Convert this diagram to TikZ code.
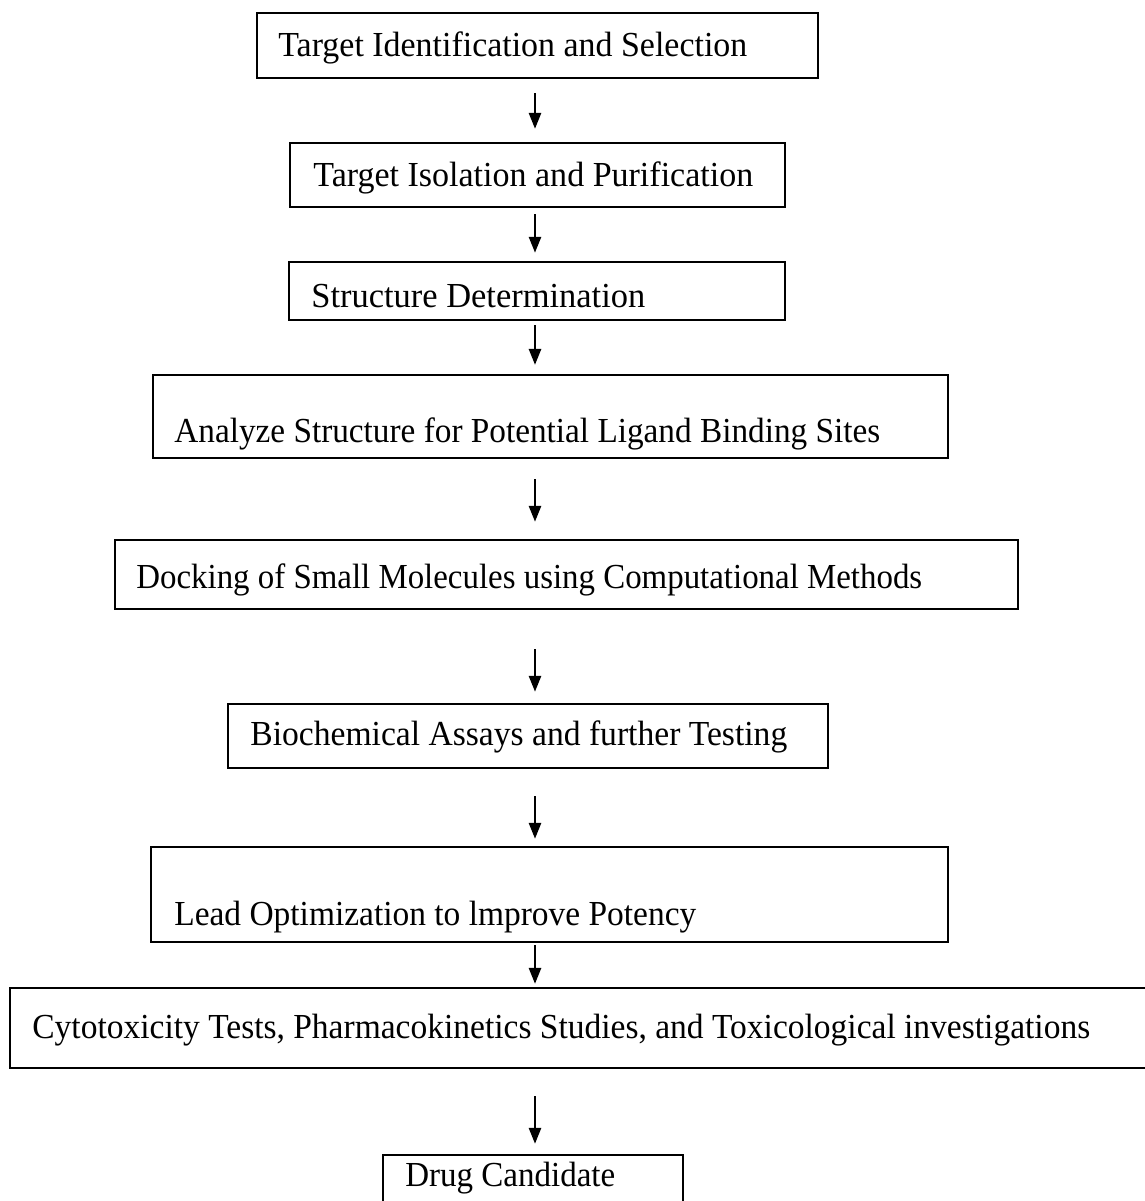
\documentclass[tikz,border=0pt]{standalone}
\usepackage{fontspec}
\setmainfont{Liberation Serif}
\usetikzlibrary{arrows.meta,fit}

% stretch a text horizontally to a width given in picture units
\newcommand{\fitto}[2]{\setbox0=\hbox{#2}\pgfmathsetmacro{\fitx}{#1*0.569055/\the\wd0}\scalebox{\fitx}[1]{\box0}}

\tikzset{
  box/.style={draw, line width=1.5pt, inner sep=0pt},
  lbl/.style={anchor=base west, inner sep=0pt, font=\fontsize{20}{22}\selectfont},
  arr/.style={-{Triangle[length=9pt,width=7pt]}, line width=1pt},
}

\begin{document}
\begin{tikzpicture}[x=0.02cm,y=-0.02cm]
\useasboundingbox (0,0) rectangle (1144,1201);
\coordinate (axis) at (535,0);

\node[box, fit={(257,13) (818,78)}] (select) {};
\node[box, fit={(290,143) (785,207)}] (isolate) {};
\node[box, fit={(289,262) (785,320)}] (structure) {};
\node[box, fit={(153,375) (948,458)}] (analyze) {};
\node[box, fit={(115,540) (1018,609)}] (docking) {};
\node[box, fit={(228,704) (828,768)}] (assays) {};
\node[box, fit={(151,847) (948,942)}] (lead) {};
\node[box, fit={(10,988) (1152,1068)}] (tox) {};
\node[box, fit={(383,1155) (683,1212)}] (drug) {};

\node[lbl] (tselect) at (278,56) {\fitto{469}{Target Identification and Selection}};
\node[lbl] (tisolate) at (313,186) {\fitto{440}{Target Isolation and Purification}};
\node[lbl] (tstructure) at (311,307) {\fitto{334}{Structure Determination}};
\node[lbl] (tanalyze) at (174,442) {\fitto{706}{Analyze Structure for Potential Ligand Binding Sites}};
\node[lbl] (tdocking) at (136,588) {\fitto{786}{Docking of Small Molecules using Computational Methods}};
\node[lbl] (tassays) at (250,745) {\fitto{537}{Biochemical Assays and further Testing}};
\node[lbl] (tlead) at (174,925) {\fitto{522}{Lead Optimization to lmprove Potency}};
\node[lbl] (ttox) at (32,1038) {\fitto{1058}{Cytotoxicity Tests, Pharmacokinetics Studies, and Toxicological investigations}};
\node[lbl] (tdrug) at (405,1186) {\fitto{210}{Drug Candidate}};

\draw[arr, shorten <=8pt, shorten >=7.4pt] (select.south -| axis) -- (isolate.north -| axis);
\draw[arr, shorten <=3.4pt, shorten >=4.6pt] (isolate.south -| axis) -- (structure.north -| axis);
\draw[arr, shorten <=2.3pt, shorten >=5.1pt] (structure.south -| axis) -- (analyze.north -| axis);
\draw[arr, shorten <=11.4pt, shorten >=9.7pt] (analyze.south -| axis) -- (docking.north -| axis);
\draw[arr, shorten <=22.2pt, shorten >=6.3pt] (docking.south -| axis) -- (assays.north -| axis);
\draw[arr, shorten <=15.4pt, shorten >=4pt] (assays.south -| axis) -- (lead.north -| axis);
\draw[arr, shorten <=1.1pt, shorten >=1.7pt] (lead.south -| axis) -- (tox.north -| axis);
\draw[arr, shorten <=15.4pt, shorten >=5.7pt] (tox.south -| axis) -- (drug.north -| axis);
\end{tikzpicture}
\end{document}
